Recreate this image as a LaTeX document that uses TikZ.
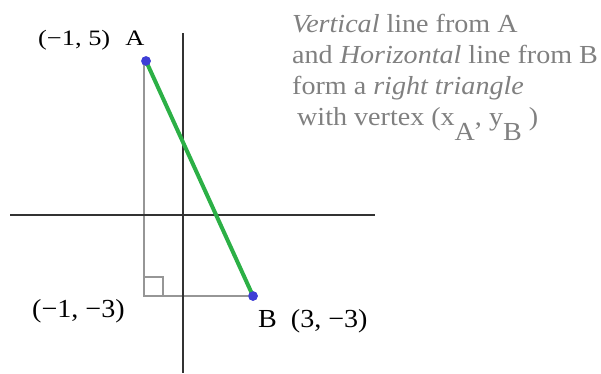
\documentclass[tikz,border=0pt]{standalone}
\usepackage{fontspec}
\setmainfont{Liberation Serif}[FakeStretch=1.08]
\newfontfamily\widefont{Liberation Serif}[FakeStretch=1.2]
\usepackage{tikz}
\usetikzlibrary{calc}
\definecolor{ptblue}{RGB}{62,62,214}
\definecolor{seggreen}{RGB}{44,176,70}
\definecolor{notegray}{RGB}{128,128,128}
\definecolor{legray}{RGB}{150,150,150}
\definecolor{axisgray}{RGB}{50,50,50}

\begin{document}
\begin{tikzpicture}[
  x=1pt, y=-1pt,
  axis/.style={draw=axisgray, line width=1.6pt},
  leg/.style={draw=legray, line width=1.5pt},
  seg/.style={draw=seggreen, line width=4pt},
  dot/.style={circle, fill=ptblue, inner sep=0pt, minimum size=9.5pt},
  lbl/.style={inner sep=0pt, anchor=base west, font=\fontsize{26}{31}\selectfont},
  note/.style={lbl, text=notegray}
]
\useasboundingbox (0,0) rectangle (601,373);

\coordinate (xl) at (10,215);
\coordinate (xr) at (375,215);
\coordinate (yt) at (183,33);
\coordinate (yb) at (183,373);
\node[dot] (A) at (146,61) {};
\node[dot] (B) at (253,296) {};
\coordinate (C) at (144,296);

\draw[leg] (A.center -| C) -- (C) -- (B.center);
\draw[leg] ($(C)+(0,-19)$) -- ++(19,0) -- ++(0,19);
\draw[axis] (xl) -- (xr);
\draw[axis] (yt) -- (yb);
\draw[seg] (A.center) -- (B.center);
\node[dot] at (A) {};
\node[dot] at (B) {};

\node[lbl, font=\fontsize{22}{26}\widefont] (la) at (38,45) {(−1, 5)\hspace{15pt}A};
\node[lbl] (lc) at (32,317) {(−1, −3)};
\node[lbl] (lb) at (258,327) {B\hspace{14pt}(3, −3)};

\node[note] (txt) at (292,32) {\begin{tabular}[t]{@{}l@{}}
  \textit{Vertical} line from A\\
  and \textit{Horizontal} line from B\\
  form a \textit{right triangle}\\
  \hspace{5pt}with vertex (x\raisebox{-15pt}{A}, y\raisebox{-15pt}{B} )
  \end{tabular}};
\end{tikzpicture}
\end{document}
